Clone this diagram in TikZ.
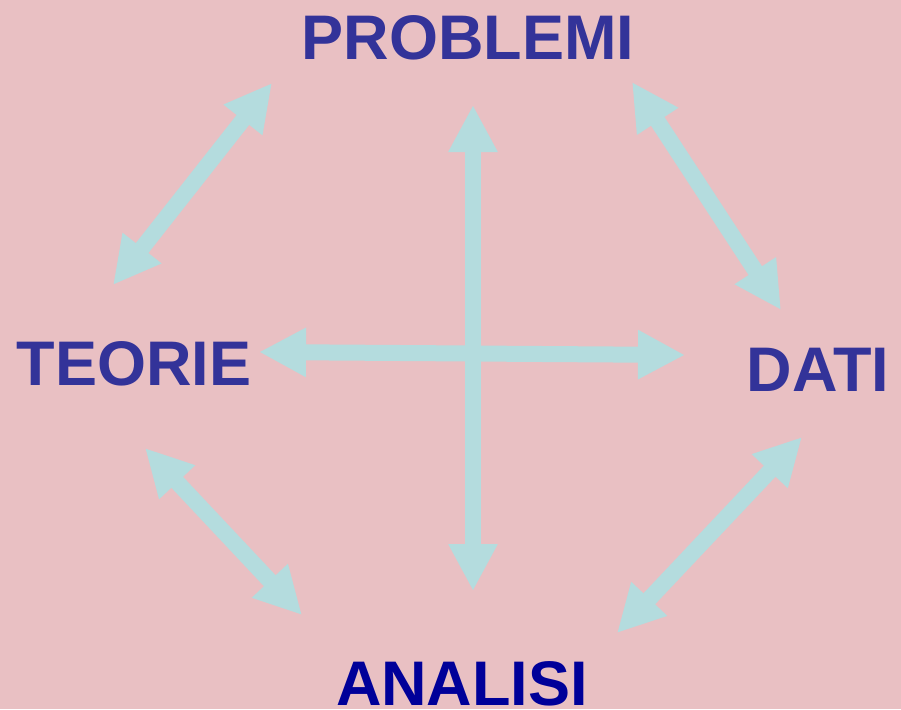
\documentclass[tikz,border=0pt]{standalone}
\usepackage{fontspec}
\setmainfont{Liberation Sans}
\usetikzlibrary{arrows.meta}

\definecolor{sfondo}{RGB}{233,192,195}
\definecolor{azzurro}{RGB}{180,220,222}
\definecolor{blu}{RGB}{51,51,153}
\definecolor{bluscuro}{RGB}{0,0,153}

\tikzset{
	freccia/.style={azzurro, line width=16pt,
		{Triangle[length=47pt,width=46pt]}-{Triangle[length=47pt,width=46pt]}},
	voce/.style={blu, inner sep=0pt, font=\fontsize{63}{63}\selectfont\bfseries}
}

\begin{document}
\begin{tikzpicture}[x=1pt,y=-1pt]
	
	%Sfondo
	\fill[sfondo] (0,0) rectangle (901,709);
	
	%Parole
	\node[voce] (problemi) at (468,38) {PROBLEMI};
	\node[voce] (teorie) at (134,364) {TEORIE};
	\node[voce] (dati) at (818,370) {DATI};
	\node[voce, bluscuro] (analisi) at (462,684) {ANALISI};
	
	%Estremi delle frecce
	\coordinate (su) at (473,105);
	\coordinate (giu) at (473,591);
	\coordinate (sx) at (259,352);
	\coordinate (dx) at (685,355);
	\coordinate (tp1) at (113,285);
	\coordinate (tp2) at (272,83);
	\coordinate (pd1) at (632,82);
	\coordinate (pd2) at (781,310);
	\coordinate (ta1) at (145,448);
	\coordinate (ta2) at (302,615);
	\coordinate (da1) at (802,437);
	\coordinate (da2) at (617,633);
	
	%Croce
	\draw[freccia] (su) -- (giu);
	\draw[freccia] (sx) -- (dx);
	
	%Lati
	\draw[freccia] (tp1) -- (tp2);
	\draw[freccia] (pd1) -- (pd2);
	\draw[freccia] (ta1) -- (ta2);
	\draw[freccia] (da1) -- (da2);
	
\end{tikzpicture}
\end{document}
